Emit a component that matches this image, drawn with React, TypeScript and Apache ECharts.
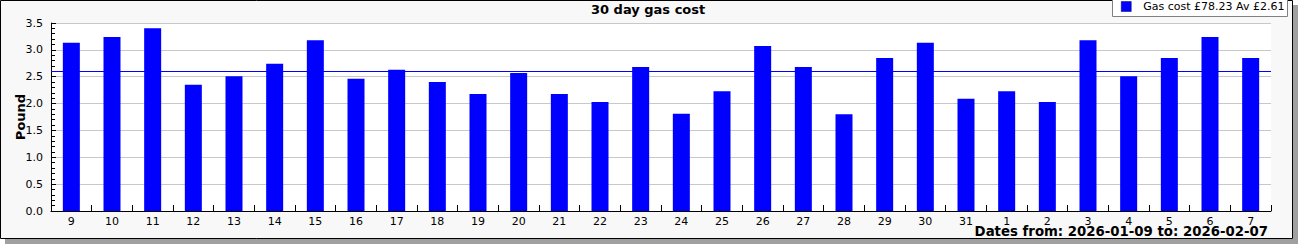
import React, { useEffect, useRef } from "react";
import * as echarts from "echarts";

const categories = ["9","10","11","12","13","14","15","16","17","18","19","20","21","22","23","24","25","26","27","28","29","30","31","1","2","3","4","5","6","7"];
const gasCost = [3.13,3.24,3.40,2.35,2.51,2.74,3.18,2.46,2.63,2.40,2.18,2.57,2.18,2.03,2.68,1.81,2.23,3.07,2.68,1.80,2.85,3.13,2.09,2.23,2.03,3.18,2.51,2.85,3.24,2.85];
const average = 2.61;
const seriesName = "Gas cost £78.23 Av £2.61";
const titleText = "30 day gas cost";
const yAxisName = "Pound";
const footerText = "Dates from: 2026-01-09 to: 2026-02-07";

const FONT = "DejaVu Sans";

export default function App() {
  const ref = useRef<HTMLDivElement>(null);
  useEffect(() => {
    if (!ref.current) return;
    const chart = echarts.init(ref.current, null, { renderer: "svg" });
    chart.setOption({
      animation: false,
      backgroundColor: "transparent",
      textStyle: { fontFamily: FONT },
      title: {
        text: titleText,
        left: 591,
        top: 3,
        padding: 0,
        textStyle: { fontFamily: FONT, fontSize: 13, fontWeight: "bold", color: "#000" },
      },
      legend: {
        data: [seriesName],
        left: 1121,
        top: 1,
        padding: 0,
        itemWidth: 10,
        itemHeight: 10,
        icon: "rect",
        itemStyle: { borderColor: "#000066", borderWidth: 0.5 },
        textStyle: { fontFamily: FONT, fontSize: 11, color: "#000", padding: [0, 0, 0, 7] },
      },
      graphic: [
        { type: "rect", z: -20, shape: { x: 5, y: 5, width: 1293, height: 239 }, style: { fill: "#a0a0a0" } },
        { type: "rect", z: -10, shape: { x: 0.5, y: 0.5, width: 1292, height: 238 }, style: { fill: "#f8f8f8", stroke: "#000", lineWidth: 1 } },
        { type: "rect", z: -5, shape: { x: 1112.5, y: -1, width: 175, height: 17.5 }, style: { fill: "#fff", stroke: "#808080", lineWidth: 1 } },
        {
          type: "text",
          z: 100,
          x: 1268,
          y: 231,
          style: { text: footerText, font: `bold 13.3px "${FONT}"`, fill: "#000", textAlign: "right", textVerticalAlign: "middle" },
        },
      ],
      grid: {
        left: 51,
        top: 23,
        width: 1220,
        height: 188,
        show: true,
        backgroundColor: "#ffffff",
        borderWidth: 0,
        containLabel: false,
        outerBoundsMode: "none",
      },
      xAxis: {
        type: "category",
        data: categories,
        boundaryGap: true,
        axisLine: { show: true, lineStyle: { color: "#000", width: 1 } },
        axisTick: { show: true, inside: true, length: 6, alignWithLabel: false, lineStyle: { color: "#000" } },
        axisLabel: { fontFamily: FONT, fontSize: 11, color: "#000", margin: 5, interval: 0 },
        splitLine: { show: false },
      },
      yAxis: {
        type: "value",
        min: 0,
        max: 3.5,
        interval: 0.5,
        name: yAxisName,
        nameLocation: "middle",
        nameGap: 24,
        nameMoveOverlap: false,
        nameTextStyle: { fontFamily: FONT, fontSize: 13, fontWeight: "bold", color: "#000" },
        axisLine: { show: true, lineStyle: { color: "#000", width: 1 } },
        axisTick: { show: true, inside: true, length: 5, lineStyle: { color: "#000" } },
        minorTick: { show: true, splitNumber: 5, length: 4, lineStyle: { color: "#000" } },
        axisLabel: {
          fontFamily: FONT,
          fontSize: 11,
          color: "#000",
          margin: 8,
          formatter: (v: number) => v.toFixed(1),
        },
        splitLine: { show: true, lineStyle: { color: "#c8c8c8", width: 1 } },
      },
      series: [
        {
          name: seriesName,
          type: "bar",
          data: gasCost,
          barWidth: 17,
          itemStyle: { color: "#0000ff" },
          markLine: {
            silent: true,
            symbol: "none",
            label: { show: false },
            lineStyle: { color: "#0000ff", width: 1, type: "solid" },
            data: [{ yAxis: average }],
          },
        },
      ],
    });
    return () => chart.dispose();
  }, []);
  return <div ref={ref} style={{ position: "absolute", left: 0, top: 0, width: 1300, height: 245 }} />;
}
